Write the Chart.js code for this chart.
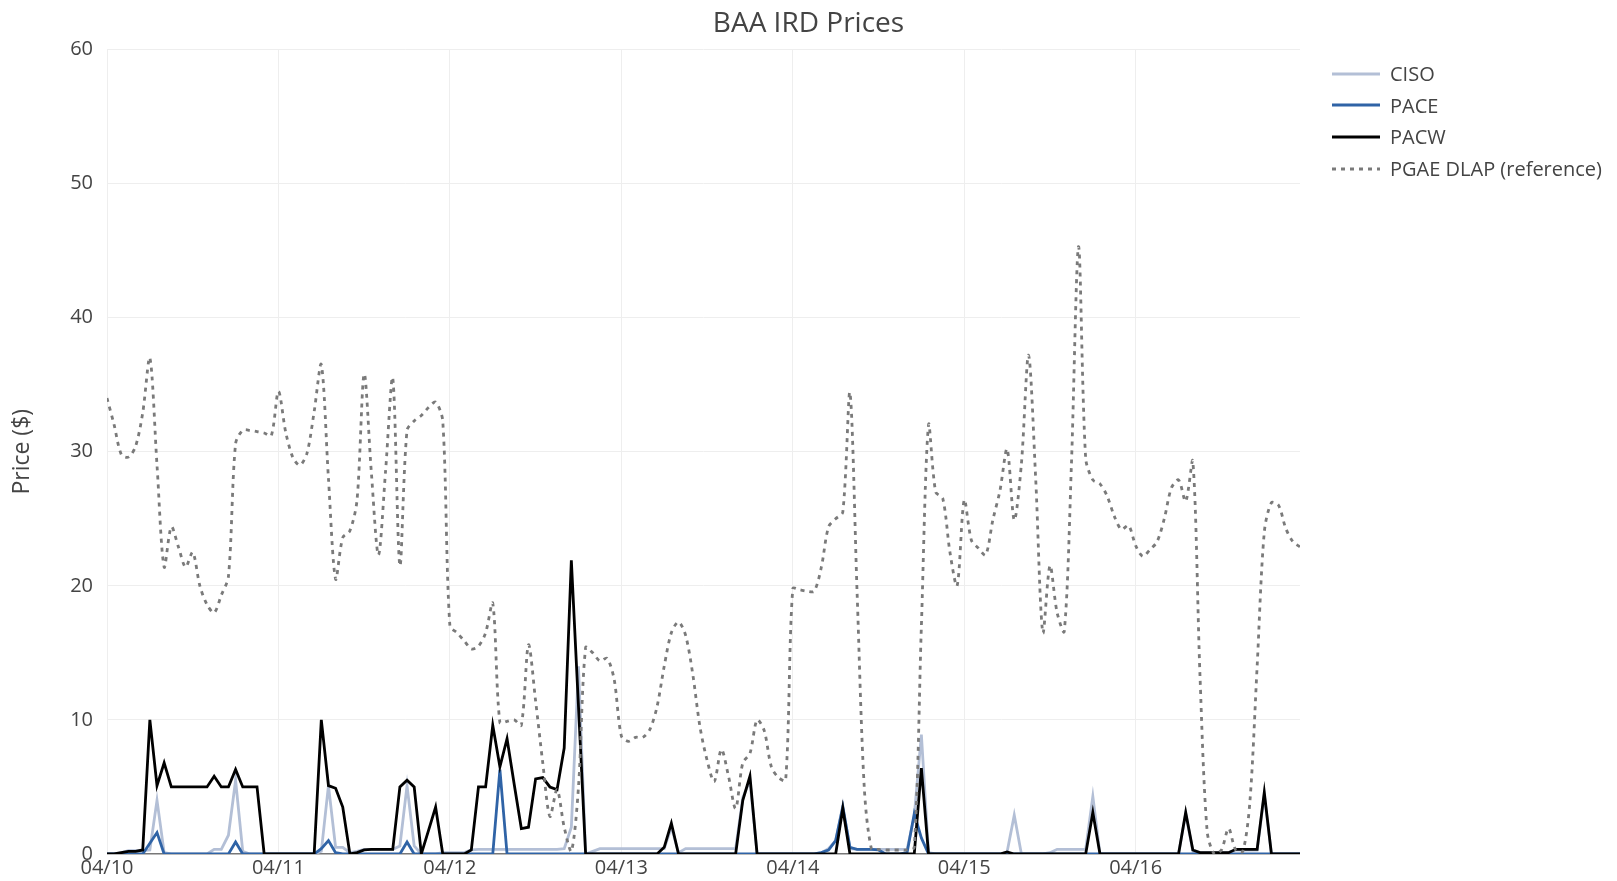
<!DOCTYPE html>
<html>
<head>
<meta charset="utf-8">
<title>BAA IRD Prices</title>
<script src="https://cdn.jsdelivr.net/npm/chart.js@4.4.1/dist/chart.umd.min.js"></script>
<style>
  html, body { margin: 0; padding: 0; background: #fff; }
  #wrap { position: relative; width: 1617px; height: 881px; font-family: "Open Sans", sans-serif; color: #444; }
  #chart { position: absolute; left: 0; top: 0; }
  #title { position: absolute; left: 0; top: 2px; width: 1617px; text-align: center; font-size: 28px; line-height: 38px; }
  #legend { position: absolute; left: 1332px; top: 58px; font-size: 20px; }
  .item { display: flex; align-items: center; height: 31.6px; white-space: nowrap; }
  .item svg { margin-right: 10px; }
</style>
</head>
<body>
<div id="wrap">
  <canvas id="chart" width="1617" height="881"></canvas>
  <div id="title">BAA IRD Prices</div>
  <div id="legend"></div>
</div>
<script>
// one value per hour, 04/10 00:00 .. 04/16 23:00
const dayLabels = ['04/10', '04/11', '04/12', '04/13', '04/14', '04/15', '04/16'];

const ciso = [
  0, 0, 0.1, 0.25, 0.25, 0.25, 0.3, 4.0, 0.1, 0, 0, 0, 0, 0, 0, 0.35, 0.35, 1.4, 5.5, 0.2, 0, 0, 0, 0,
  0, 0, 0, 0, 0, 0, 0.2, 5.1, 0.5, 0.5, 0.1, 0.2, 0.35, 0.35, 0.35, 0.35, 0.35, 0.6, 5.1, 0.6, 0, 0, 0, 0.1,
  0.1, 0.1, 0.1, 0.3, 0.35, 0.35, 0.35, 0.35, 0.35, 0.35, 0.35, 0.35, 0.35, 0.35, 0.35, 0.35, 0.4, 2.0, 14, 0, 0.2, 0.4, 0.4, 0.4,
  0.4, 0.4, 0.4, 0.4, 0.4, 0.4, 0.4, 2.0, 0.1, 0.4, 0.4, 0.4, 0.4, 0.4, 0.4, 0.4, 0.4, 4.2, 5.5, 0, 0, 0, 0, 0,
  0, 0, 0, 0, 0.1, 0.4, 1.0, 3.6, 0.4, 0.35, 0.35, 0.35, 0.35, 0.35, 0.35, 0.35, 0.35, 2.8, 8.9, 0.1, 0, 0, 0, 0,
  0, 0, 0, 0, 0, 0, 0.15, 2.9, 0, 0, 0, 0, 0.1, 0.35, 0.35, 0.35, 0.35, 0.35, 4.3, 0, 0, 0, 0, 0,
  0, 0, 0, 0, 0, 0, 0, 3.0, 0.2, 0.1, 0.1, 0.1, 0.1, 0.1, 0.3, 0.3, 0.3, 0.3, 4.4, 0, 0, 0, 0, 0
];

const pace = [
  0, 0, 0, 0, 0, 0, 0.8, 1.6, 0, 0, 0, 0, 0, 0, 0, 0, 0, 0, 0.9, 0, 0, 0, 0, 0,
  0, 0, 0, 0, 0, 0, 0.4, 1.0, 0.1, 0, 0, 0, 0, 0, 0, 0, 0, 0, 0.9, 0, 0, 0, 0, 0,
  0, 0, 0, 0, 0, 0, 0, 6.3, 0, 0, 0, 0, 0, 0, 0, 0, 0, 0, 0, 0, 0, 0, 0, 0,
  0, 0, 0, 0, 0, 0, 0, 0, 0, 0, 0, 0, 0, 0, 0, 0, 0, 0, 0, 0, 0, 0, 0, 0,
  0, 0, 0, 0, 0.1, 0.3, 1.0, 3.5, 0.5, 0.35, 0.35, 0.35, 0.3, 0, 0, 0, 0.1, 3.0, 1.2, 0, 0, 0, 0, 0,
  0, 0, 0, 0, 0, 0, 0, 0, 0, 0, 0, 0, 0, 0, 0, 0, 0, 0, 0, 0, 0, 0, 0, 0,
  0, 0, 0, 0, 0, 0, 0, 0, 0, 0, 0, 0, 0, 0, 0, 0, 0, 0, 0, 0, 0, 0, 0, 0
];

const pacw = [
  0, 0, 0.1, 0.2, 0.2, 0.3, 10, 5.1, 6.8, 5, 5, 5, 5, 5, 5, 5.8, 5, 5, 6.3, 5, 5, 5, 0, 0,
  0, 0, 0, 0, 0, 0, 10, 5.1, 4.9, 3.5, 0, 0.1, 0.3, 0.35, 0.35, 0.35, 0.35, 5, 5.5, 5, 0, 1.75, 3.5, 0,
  0, 0, 0, 0.3, 5, 5, 9.6, 6.5, 8.6, 5.2, 1.9, 2.0, 5.6, 5.7, 5.0, 4.8, 7.9, 21.9, 11, 0, 0, 0, 0, 0,
  0, 0, 0, 0, 0, 0, 0.5, 2.3, 0, 0, 0, 0, 0, 0, 0, 0, 0, 4.0, 5.8, 0, 0, 0, 0, 0,
  0, 0, 0, 0, 0, 0, 0, 3.4, 0, 0, 0, 0, 0, 0, 0, 0, 0, 0, 6.4, 0, 0, 0, 0, 0,
  0, 0, 0, 0, 0, 0, 0.15, 0, 0, 0, 0, 0, 0, 0, 0, 0, 0, 0, 3.1, 0, 0, 0, 0, 0,
  0, 0, 0, 0, 0, 0, 0, 3.1, 0.3, 0.1, 0.1, 0.1, 0.1, 0.1, 0.35, 0.35, 0.35, 0.35, 4.6, 0, 0, 0, 0, 0
];

const dlap = [
  34.0, 32.0, 29.8, 29.6, 30.4, 32.9, 37.0, 29.0, 21.4, 24.4, 22.9, 21.4, 22.5, 20.0, 18.6, 18.0, 19.3, 20.7, 30.6, 31.6, 31.6, 31.5, 31.4, 31.2,
  34.5, 31.5, 29.6, 29.0, 29.9, 33.0, 36.5, 28.0, 20.5, 23.6, 24.1, 26.4, 35.8, 28.5, 22.3, 28.6, 35.5, 21.5, 31.6, 32.3, 32.7, 33.3, 33.7, 32.3,
  17.0, 16.5, 15.9, 15.3, 15.5, 16.5, 18.7, 9.8, 9.9, 10.0, 9.6, 15.6, 11.4, 6.8, 2.8, 4.8, 2.0, 0.2, 5.0, 15.4, 15.0, 14.4, 14.6, 13.0,
  8.8, 8.4, 8.7, 8.7, 9.3, 11.0, 14.0, 16.5, 17.3, 16.3, 13.4, 9.5, 7.0, 5.4, 7.8, 5.8, 3.4, 6.8, 7.5, 10.0, 9.2, 6.5, 5.7, 5.5,
  19.8, 19.7, 19.6, 19.6, 21.4, 24.4, 25.0, 25.5, 34.4, 19.5, 5.0, 0.4, 0.35, 0.3, 0.3, 0.3, 0.3, 0.5, 17.0, 32.0, 27.0, 26.5, 22.5, 20.0,
  26.4, 23.4, 22.8, 22.3, 24.9, 27.1, 30.2, 24.9, 29.1, 37.2, 28.0, 16.5, 21.5, 18.0, 16.6, 29.0, 45.3, 29.5, 27.9, 27.6, 26.7, 25.2, 24.2, 24.5,
  23.0, 22.2, 22.7, 23.3, 25.0, 27.3, 27.9, 26.3, 29.3, 13.3, 1.7, 0, 0.3, 1.9, 0.3, 0.2, 4.0, 14.0, 24.0, 26.2, 26.0, 24.3, 23.3, 22.9
];

const series = [
  { name: 'CISO', values: ciso, color: '#b3bfd6', dash: [], tension: 0, order: 3 },
  { name: 'PACE', values: pace, color: '#2f63a6', dash: [], tension: 0, order: 2 },
  { name: 'PACW', values: pacw, color: '#000000', dash: [], tension: 0, order: 1 },
  { name: 'PGAE DLAP (reference)', values: dlap, color: '#7a7a7a', dash: [4, 5], tension: 0.3, order: 0 }
];

Chart.defaults.font.family = '"Open Sans", sans-serif';
Chart.defaults.color = '#444';

// legend
const legend = document.getElementById('legend');
series.forEach(s => {
  const row = document.createElement('div');
  row.className = 'item';
  row.innerHTML = '<svg width="48" height="6"><line x1="0" y1="3" x2="48" y2="3" stroke="' + s.color +
    '" stroke-width="2.8" stroke-dasharray="' + (s.dash.length ? s.dash.join(',') : 'none') + '"/></svg>' +
    '<span>' + s.name + '</span>';
  legend.appendChild(row);
});

new Chart(document.getElementById('chart'), {
  type: 'line',
  data: {
    datasets: series.map(s => ({
      label: s.name,
      data: s.values.map((v, i) => ({ x: i, y: v })),
      borderColor: s.color,
      borderWidth: 2.8,
      borderDash: s.dash,
      pointRadius: 0,
      tension: s.tension,
      order: s.order,
      fill: false
    }))
  },
  options: {
    responsive: false,
    animation: false,
    layout: { padding: { top: 49.5, right: 317, left: 0, bottom: 0 } },
    plugins: {
      legend: { display: false },
      tooltip: { enabled: false }
    },
    scales: {
      x: {
        type: 'linear',
        min: 0,
        max: dlap.length - 1,
        afterBuildTicks: scale => {
          scale.ticks = dayLabels.map((_, i) => ({ value: i * 24 }));
        },
        afterFit: scale => { scale.height = 27; },
        ticks: {
          padding: 2,
          maxRotation: 0,
          font: { size: 20 },
          color: '#444',
          callback: (value) => dayLabels[Math.round(value / 24)]
        },
        grid: { color: '#eeeeee', lineWidth: 1, drawTicks: false },
        border: { display: false }
      },
      y: {
        min: 0,
        max: 60,
        afterFit: scale => { scale.width = 107; },
        ticks: { stepSize: 10, padding: 14, font: { size: 20 }, color: '#444' },
        grid: {
          color: ctx => ctx.tick.value === 0 ? '#777777' : '#eeeeee',
          lineWidth: ctx => ctx.tick.value === 0 ? 1.5 : 1,
          drawTicks: false
        },
        border: { display: false },
        title: {
          display: true,
          text: 'Price ($)',
          font: { size: 23 },
          color: '#444',
          padding: { top: 9, bottom: 0 }
        }
      }
    }
  }
});
</script>
</body>
</html>
